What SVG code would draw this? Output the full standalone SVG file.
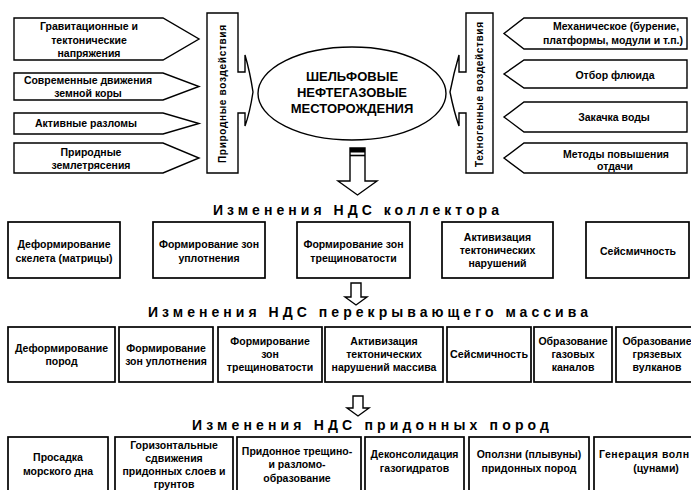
<svg xmlns="http://www.w3.org/2000/svg" width="691" height="490" viewBox="0 0 691 490">
<style>
.b{fill:#fff;stroke:#000;stroke-width:1.4}
.bx{fill:#fff;stroke:#000;stroke-width:1.7}
.t{font-family:"Liberation Sans",Arial,sans-serif;font-weight:bold;font-size:10.5px;text-anchor:middle;fill:#000}
.h{font-family:"Liberation Sans",Arial,sans-serif;font-weight:bold;font-size:14px;fill:#000}
.e{font-family:"Liberation Sans",Arial,sans-serif;font-weight:bold;font-size:13px;text-anchor:middle;fill:#000}
.v{font-family:"Liberation Sans",Arial,sans-serif;font-weight:bold;font-size:10px;fill:#000}
</style>
<rect width="691" height="490" fill="#fff"/>

<g id="connectors">
  <polygon class="b" points="350,148 365,148 365,181 377,181 357.5,195 338,181 350,181"/>
  <rect x="350" y="148" width="15" height="4.5" fill="#000"/>
  <line x1="350" y1="155.5" x2="365" y2="155.5" stroke="#000" stroke-width="1.6"/>
  <polygon class="b" points="351,283 361,283 361,297 367,297 356,305 345,297 351,297"/>
  <polygon class="b" points="353,396 363,396 363,408 369,408 358,416 347,408 353,408"/>
</g>

<g id="nat1"><polygon class="b" points="14,18 163,18 199,39 163,60 14,60"/>
<text class="t" x="89" y="30">Гравитационные и</text><text class="t" x="89" y="44">тектонические</text><text class="t" x="89" y="57">напряжения</text></g>
<g id="nat2"><polygon class="b" points="14,73 163,73 199,86.5 163,100 14,100"/>
<text class="t" x="88" y="84">Современные движения</text><text class="t" x="88" y="97">земной коры</text></g>
<g id="nat3"><polygon class="b" points="14,113 163,113 199,123.5 163,134 14,134"/>
<text class="t" x="86" y="127">Активные разломы</text></g>
<g id="nat4"><polygon class="b" points="14,143 163,143 199,158 163,173 14,173"/>
<text class="t" x="91" y="156">Природные</text><text class="t" x="91" y="169">землетрясения</text></g>

<g id="natural">
  <path class="b" d="M238,13 H207 V173 H238 V113 H245 V126 Q250,112 253,92 Q250,72 245,55 V72 H238 Z"/>
  <text class="v" transform="translate(226,163) rotate(-90)" textLength="138" lengthAdjust="spacing">Природные  воздействия</text>
</g>

<g id="center">
  <ellipse class="b" cx="352" cy="93.5" rx="94" ry="46.5"/>
  <text class="e" x="352" y="81">ШЕЛЬФОВЫЕ</text>
  <text class="e" x="352" y="97">НЕФТЕГАЗОВЫЕ</text>
  <text class="e" x="352" y="113">МЕСТОРОЖДЕНИЯ</text>
</g>

<g id="techno">
  <path class="b" d="M466,13 H493 V173 H466 V113 H459 V126 Q454,112 450,92 Q454,72 459,55 V72 H466 Z"/>
  <text class="v" transform="translate(483,167) rotate(-90)" textLength="145" lengthAdjust="spacing">Техногенные  воздействия</text>
</g>

<g id="tech1"><polygon class="b" points="687,18 524,18 504,33.5 524,49 687,49"/>
<text class="t" x="616" y="30">Механическое (бурение,</text><text class="t" x="613" y="44">платформы, модули и т.п.)</text></g>
<g id="tech2"><polygon class="b" points="687,60 524,60 504,74 524,88 687,88"/>
<text class="t" x="615" y="79">Отбор флюида</text></g>
<g id="tech3"><polygon class="b" points="687,102 524,102 504,117 524,132 687,132"/>
<text class="t" x="614" y="121">Закачка воды</text></g>
<g id="tech4"><polygon class="b" points="687,143 524,143 504,158 524,173 687,173"/>
<text class="t" x="616" y="158">Методы повышения</text><text class="t" x="615" y="170">отдачи</text></g>

<text id="title1" class="h" x="213" y="215" textLength="286" lengthAdjust="spacing">Изменения  НДС  коллектора</text>

<g id="r1a"><rect class="bx" x="8" y="222" width="112" height="56"/>
<text class="t" x="64" y="248">Деформирование</text><text class="t" x="64" y="262">скелета (матрицы)</text></g>
<g id="r1b"><rect class="bx" x="153" y="222" width="112" height="56"/>
<text class="t" x="209" y="248">Формирование зон</text><text class="t" x="209" y="262">уплотнения</text></g>
<g id="r1c"><rect class="bx" x="297" y="222" width="113" height="56"/>
<text class="t" x="353.5" y="248">Формирование зон</text><text class="t" x="353.5" y="262">трещиноватости</text></g>
<g id="r1d"><rect class="bx" x="442" y="222" width="111" height="56"/>
<text class="t" x="497.5" y="241">Активизация</text><text class="t" x="497.5" y="254">тектонических</text><text class="t" x="497.5" y="267">нарушений</text></g>
<g id="r1e"><rect class="bx" x="586" y="222" width="103" height="56"/>
<text class="t" x="638" y="255">Сейсмичность</text></g>

<text id="title2" class="h" x="148" y="317" textLength="440" lengthAdjust="spacing">Изменения  НДС  перекрывающего  массива</text>

<g id="r2a"><rect class="bx" x="8" y="327" width="107" height="55"/>
<text class="t" x="61.5" y="352">Деформирование</text><text class="t" x="61.5" y="365">пород</text></g>
<g id="r2b"><rect class="bx" x="119" y="327" width="94" height="55"/>
<text class="t" x="166" y="352">Формирование</text><text class="t" x="166" y="365">зон уплотнения</text></g>
<g id="r2c"><rect class="bx" x="218" y="327" width="104" height="55"/>
<text class="t" x="270" y="345">Формирование</text><text class="t" x="270" y="358">зон</text><text class="t" x="270" y="371">трещиноватости</text></g>
<g id="r2d"><rect class="bx" x="325" y="327" width="118" height="55"/>
<text class="t" x="384" y="345">Активизация</text><text class="t" x="384" y="358">тектонических</text><text class="t" x="384" y="371">нарушений массива</text></g>
<g id="r2e"><rect class="bx" x="447" y="327" width="84" height="55"/>
<text class="t" x="489" y="358" textLength="78" lengthAdjust="spacingAndGlyphs">Сейсмичность</text></g>
<g id="r2f"><rect class="bx" x="534" y="327" width="78" height="55"/>
<text class="t" x="573" y="345">Образование</text><text class="t" x="573" y="358">газовых</text><text class="t" x="573" y="371">каналов</text></g>
<g id="r2g"><rect class="bx" x="616" y="327" width="84" height="55"/>
<text class="t" x="657" y="345">Образование</text><text class="t" x="657" y="358">грязевых</text><text class="t" x="657" y="371">вулканов</text></g>

<text id="title3" class="h" x="192" y="430" textLength="357" lengthAdjust="spacing">Изменения  НДС  придонных  пород</text>

<g id="r3a"><rect class="bx" x="8" y="437" width="100" height="60"/>
<text class="t" x="58" y="461">Просадка</text><text class="t" x="58" y="475">морского дна</text></g>
<g id="r3b"><rect class="bx" x="115" y="437" width="118" height="60"/>
<text class="t" x="174" y="449">Горизонтальные</text><text class="t" x="174" y="462">сдвижения</text><text class="t" x="174" y="475">придонных слоев и</text><text class="t" x="174" y="488">грунтов</text></g>
<g id="r3c"><rect class="bx" x="237" y="437" width="124" height="60"/>
<text class="t" x="297" y="455">Придонное трещино-</text><text class="t" x="297" y="468">и разломо-</text><text class="t" x="297" y="482">образование</text></g>
<g id="r3d"><rect class="bx" x="365" y="437" width="99" height="60"/>
<text class="t" x="414.5" y="458">Деконсолидация</text><text class="t" x="414.5" y="472">газогидратов</text></g>
<g id="r3e"><rect class="bx" x="469" y="437" width="120" height="60"/>
<text class="t" x="529" y="458">Оползни (плывуны)</text><text class="t" x="529" y="472">придонных пород</text></g>
<g id="r3f"><rect class="bx" x="594" y="437" width="124" height="60"/>
<text class="t" x="644" y="458" textLength="90" lengthAdjust="spacing">Генерация  волн</text><text class="t" x="656" y="472">(цунами)</text></g>
</svg>
